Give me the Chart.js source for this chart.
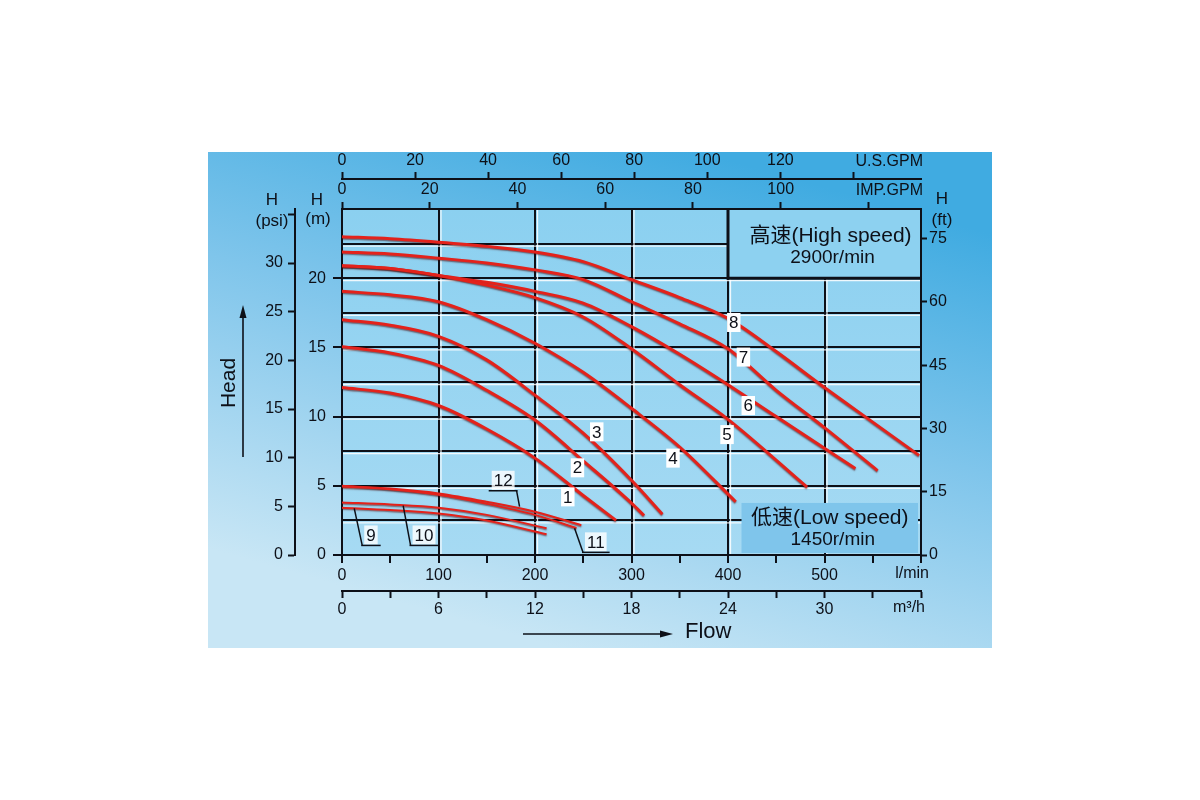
<!DOCTYPE html>
<html>
<head>
<meta charset="utf-8">
<script src="https://cdn.jsdelivr.net/npm/chart.js@4.4.1/dist/chart.umd.min.js"></script>
<style>
  html, body { margin: 0; padding: 0; background: #fff; }
  canvas { display: block; }
</style>
</head>
<body>
<canvas id="pumpChart" width="1200" height="800"></canvas>
<script>
const FONT = '"Liberation Sans", Arial, "Noto Sans CJK SC", sans-serif';
const INK = "#0d1018";
const RED = "#e3221b";

// flow in l/min, head in m  (curves 1-8 high speed, 9-12 low speed)
const q1 = [0, 50, 100, 150, 200, 250, 284];
const h1 = [12.1, 11.7, 10.8, 9.1, 7.0, 4.3, 2.5];
const q2 = [0, 50, 100, 150, 200, 250, 300, 313];
const h2 = [15.05, 14.6, 13.7, 11.9, 9.75, 6.8, 3.75, 2.85];
const q3 = [0, 50, 100, 150, 200, 250, 300, 332];
const h3 = [17.0, 16.6, 15.8, 14.1, 11.55, 8.8, 5.4, 2.95];
const q4 = [0, 50, 100, 150, 200, 250, 300, 350, 408];
const h4 = [19.05, 18.8, 18.3, 17.0, 15.3, 13.2, 10.6, 7.8, 3.85];
const q5 = [0, 50, 100, 150, 200, 250, 300, 350, 400, 482];
const h5 = [20.9, 20.7, 20.2, 19.5, 18.6, 17.2, 14.9, 12.3, 9.8, 4.9];
const q6 = [0, 50, 100, 150, 200, 250, 300, 350, 400, 450, 532];
const h6 = [20.9, 20.7, 20.2, 19.7, 19.05, 18.2, 16.5, 14.5, 12.3, 10.0, 6.25];
const q7 = [0, 50, 100, 150, 200, 250, 300, 350, 400, 450, 500, 555];
const h7 = [21.9, 21.75, 21.45, 21.1, 20.6, 19.9, 18.3, 16.7, 14.9, 11.9, 9.2, 6.1];
const q8 = [0, 50, 100, 150, 200, 250, 300, 350, 400, 450, 500, 550, 598];
const h8 = [23.0, 22.85, 22.6, 22.3, 21.9, 21.2, 19.9, 18.6, 17.1, 14.7, 12.1, 9.6, 7.2];
const q9 = [0, 50, 100, 150, 212];
const h9 = [3.42, 3.25, 3.0, 2.5, 1.5];
const q10 = [0, 50, 100, 150, 212];
const h10 = [3.8, 3.65, 3.42, 2.9, 1.93];
const q11 = [0, 50, 100, 150, 200, 243];
const h11 = [4.95, 4.75, 4.35, 3.7, 2.9, 1.95];
const q12 = [0, 50, 100, 150, 200, 248];
const h12 = [5.0, 4.8, 4.45, 3.85, 3.13, 2.15];

// curve number tags (l/min, m) and leader targets for the low speed ones
const labelText = ["1", "2", "3", "4", "5", "6", "7", "8", "9", "10", "11", "12"];
const labelQ = [234, 244, 264, 343, 399, 421, 416, 406, 30, 85, 263, 167];
const labelH = [4.2, 6.3, 8.9, 7.0, 8.7, 10.8, 14.3, 16.8, 1.45, 1.45, 0.95, 5.4];
const leaderQ = [null, null, null, null, null, null, null, null, 12.7, 63.4, 241, 184];
const leaderH = [null, null, null, null, null, null, null, null, 3.37, 3.56, 1.93, 3.5];

const flowMax = 600;
const headMax = 25;
const LPM_PER_USGPM = 3.78541;
const LPM_PER_IMPGPM = 4.54609;
const LPM_PER_M3H = 1000 / 60;
const PSI_PER_M = 1.42233;
const FT_PER_M = 3.28084;

const curveFlows = [q1, q2, q3, q4, q5, q6, q7, q8, q9, q10, q11, q12];
const curveHeads = [h1, h2, h3, h4, h5, h6, h7, h8, h9, h10, h11, h12];

const datasets = curveFlows.map((q, i) => ({
  label: String(i + 1),
  data: q.map((v, j) => ({ x: v, y: curveHeads[i][j] })),
  borderColor: RED,
  borderWidth: i < 8 ? 3 : 2,
  pointRadius: 0,
  cubicInterpolationMode: "monotone",
  fill: false,
}));

const fixSize = (size) => (scale) => {
  if (scale.isHorizontal()) scale.height = size;
  else scale.width = size;
  scale.paddingLeft = scale.paddingRight = scale.paddingTop = scale.paddingBottom = 0;
};

const tickFont = { family: FONT, size: 16 };

function line(ctx, x1, y1, x2, y2) {
  ctx.beginPath();
  ctx.moveTo(x1, y1);
  ctx.lineTo(x2, y2);
  ctx.stroke();
}

function arrowHead(ctx, tx, ty, dx, dy) {
  // dx,dy unit direction of the arrow
  const len = 13, half = 3.5;
  ctx.beginPath();
  ctx.moveTo(tx, ty);
  ctx.lineTo(tx - dx * len - dy * half, ty - dy * len + dx * half);
  ctx.lineTo(tx - dx * len + dy * half, ty - dy * len - dx * half);
  ctx.closePath();
  ctx.fill();
}

const decor = {
  id: "decor",
  beforeDraw(chart) {
    const { ctx, chartArea: a } = chart;
    ctx.save();
    ctx.fillStyle = "#ffffff";
    ctx.fillRect(0, 0, chart.width, chart.height);
    const g = ctx.createLinearGradient(700, 152, 560, 648);
    g.addColorStop(0, "#40abe1");
    g.addColorStop(0.45, "#7fc5eb");
    g.addColorStop(1, "#c8e6f5");
    ctx.fillStyle = g;
    ctx.fillRect(208, 152, 784, 496);
    const p = ctx.createLinearGradient(0, a.top, 0, a.bottom);
    p.addColorStop(0, "#8bd0f0");
    p.addColorStop(1, "#a6daf3");
    ctx.fillStyle = p;
    ctx.fillRect(a.left, a.top, a.right - a.left, a.bottom - a.top);
    ctx.restore();
  },
  beforeDatasetsDraw(chart) {
    const { ctx, chartArea: a, scales: { x, y } } = chart;
    ctx.save();
    // light edge under the grid lines
    ctx.strokeStyle = "rgba(255,255,255,0.85)";
    ctx.lineWidth = 1.3;
    for (let h = 2.5; h < headMax; h += 2.5) {
      const py = y.getPixelForValue(h) + 2.5;
      line(ctx, a.left + 1, py, a.right - 1, py);
    }
    for (let q = 100; q < flowMax; q += 100) {
      const px = x.getPixelForValue(q) + 2.5;
      line(ctx, px, a.top + 1, px, a.bottom - 1);
    }

    // high speed box
    const bx = x.getPixelForValue(400), by = y.getPixelForValue(20);
    ctx.fillStyle = "#8dd1f0";
    ctx.fillRect(bx, a.top + 1, a.right - 1 - bx, by - a.top - 1);
    ctx.strokeStyle = INK;
    ctx.lineWidth = 3;
    ctx.beginPath();
    ctx.moveTo(bx, a.top);
    ctx.lineTo(bx, by);
    ctx.lineTo(a.right, by);
    ctx.stroke();
    const cx = (bx + a.right) / 2 + 6;
    ctx.fillStyle = INK;
    ctx.textAlign = "center";
    ctx.textBaseline = "middle";
    ctx.font = `21px ${FONT}`;
    ctx.fillText("高速(High speed)", cx, by - 42);
    ctx.font = `19px ${FONT}`;
    ctx.fillText("2900r/min", cx + 2, by - 20);

    // low speed box
    const lx = x.getPixelForValue(414), ly = y.getPixelForValue(3.76);
    ctx.fillStyle = "#7fc5eb";
    ctx.fillRect(lx, ly, a.right - 3 - lx, a.bottom - 2 - ly);
    const lcx = (lx + a.right - 3) / 2;
    ctx.fillStyle = INK;
    ctx.font = `21px ${FONT}`;
    ctx.fillText("低速(Low speed)", lcx, ly + 15);
    ctx.font = `19px ${FONT}`;
    ctx.fillText("1450r/min", lcx + 3, ly + 37);
    ctx.restore();
  },
  beforeDatasetDraw(chart) {
    const ctx = chart.ctx;
    ctx.save();
    ctx.shadowColor = "rgba(70,0,0,0.55)";
    ctx.shadowOffsetY = 1.2;
    ctx.shadowBlur = 1.5;
  },
  afterDatasetDraw(chart) {
    chart.ctx.restore();
  },
  afterDatasetsDraw(chart) {
    const { ctx, scales: { x, y } } = chart;
    ctx.save();
    ctx.font = `17px ${FONT}`;
    ctx.textAlign = "center";
    ctx.textBaseline = "middle";
    labelText.forEach((t, i) => {
      const px = x.getPixelForValue(labelQ[i]);
      const py = y.getPixelForValue(labelH[i]);
      const w = ctx.measureText(t).width + 4, h = 19;
      ctx.fillStyle = i < 8 ? "#ffffff" : "rgba(255,255,255,0.8)";
      ctx.fillRect(px - w / 2, py - h / 2, w, h);
      ctx.fillStyle = INK;
      ctx.fillText(t, px, py + 1);
      if (leaderQ[i] !== null) {
        const base = py + h / 2 + 1;
        ctx.strokeStyle = INK;
        ctx.lineWidth = 1.5;
        line(ctx, px - w / 2 - 3, base, px + w / 2 + 3, base);
        const ex = leaderQ[i] > labelQ[i] ? px + w / 2 + 2 : px - w / 2 - 2;
        line(ctx, ex, base, x.getPixelForValue(leaderQ[i]), y.getPixelForValue(leaderH[i]));
      }
    });
    ctx.restore();
  },
  afterDraw(chart) {
    const { ctx, chartArea: a, scales } = chart;
    ctx.save();
    ctx.fillStyle = INK;
    ctx.strokeStyle = INK;

    // unit names at the end of each flow scale
    ctx.font = `16px ${FONT}`;
    ctx.textAlign = "right";
    ctx.textBaseline = "bottom";
    ctx.fillText("U.S.GPM", a.right + 2, scales.xus.bottom - 9);
    ctx.fillText("IMP.GPM", a.right + 2, scales.ximp.bottom - 10);
    ctx.textBaseline = "top";
    ctx.fillText("l/min", a.right + 8, scales.x.top + 11);
    ctx.fillText("m³/h", a.right + 4, scales.xm3.top + 9);

    // head axis titles
    ctx.font = `17px ${FONT}`;
    ctx.textAlign = "center";
    ctx.textBaseline = "middle";
    ctx.fillText("H", 272, 200);
    ctx.fillText("(psi)", 272, 221);
    ctx.fillText("H", 317, 200);
    ctx.fillText("(m)", 318, 219);
    ctx.fillText("H", 942, 199);
    ctx.fillText("(ft)", 942, 220);

    // Head arrow
    ctx.lineWidth = 1.6;
    line(ctx, 243, 457, 243, 316);
    arrowHead(ctx, 243, 305, 0, -1);
    ctx.save();
    ctx.translate(229, 383);
    ctx.rotate(-Math.PI / 2);
    ctx.font = `21px ${FONT}`;
    ctx.fillText("Head", 0, 0);
    ctx.restore();

    // Flow arrow
    line(ctx, 523, 634, 662, 634);
    arrowHead(ctx, 673, 634, 1, 0);
    ctx.font = `22px ${FONT}`;
    ctx.textAlign = "left";
    ctx.fillText("Flow", 685, 632);
    ctx.restore();
  },
};

new Chart(document.getElementById("pumpChart"), {
  type: "line",
  data: { datasets },
  options: {
    responsive: false,
    devicePixelRatio: 1,
    animation: false,
    layout: { padding: { left: 235, right: 229, top: 149, bottom: 173 } },
    plugins: { legend: { display: false }, tooltip: { enabled: false } },
    scales: {
      x: {
        type: "linear",
        position: "bottom",
        weight: 0,
        min: 0,
        max: flowMax,
        afterFit: fixSize(36),
        ticks: {
          stepSize: 50,
          autoSkip: false,
          maxRotation: 0,
          padding: 3,
          color: INK,
          font: tickFont,
          callback: (v) => (v % 100 === 0 && v < flowMax ? v : ""),
        },
        grid: {
          color: (c) => (c.tick && c.tick.value % 100 === 0 ? INK : "rgba(0,0,0,0)"),
          lineWidth: 2,
          tickLength: 8,
          tickColor: INK,
          tickWidth: 2,
        },
        border: { color: INK, width: 2 },
      },
      xm3: {
        type: "linear",
        position: "bottom",
        weight: 1,
        min: 0,
        max: flowMax / LPM_PER_M3H,
        afterFit: fixSize(36),
        ticks: {
          stepSize: 3,
          autoSkip: false,
          maxRotation: 0,
          padding: 2,
          color: INK,
          font: tickFont,
          callback: (v) => (v % 6 === 0 && v < 36 ? v : ""),
        },
        grid: { drawOnChartArea: false, tickLength: 7, tickColor: INK, tickWidth: 2 },
        border: { color: INK, width: 2 },
      },
      ximp: {
        type: "linear",
        position: "top",
        weight: 0,
        min: 0,
        max: flowMax / LPM_PER_IMPGPM,
        afterFit: fixSize(30),
        ticks: {
          stepSize: 20,
          includeBounds: false,
          autoSkip: false,
          maxRotation: 0,
          padding: 3,
          color: INK,
          font: tickFont,
          callback: (v) => (v < 120 ? v : ""),
        },
        grid: { drawOnChartArea: false, tickLength: 7, tickColor: INK, tickWidth: 2 },
        border: { color: INK, width: 2 },
      },
      xus: {
        type: "linear",
        position: "top",
        weight: 1,
        min: 0,
        max: flowMax / LPM_PER_USGPM,
        afterFit: fixSize(30),
        ticks: {
          stepSize: 20,
          includeBounds: false,
          autoSkip: false,
          maxRotation: 0,
          padding: 2,
          color: INK,
          font: tickFont,
          callback: (v) => (v < 140 ? v : ""),
        },
        grid: { drawOnChartArea: false, tickLength: 7, tickColor: INK, tickWidth: 2 },
        border: { color: INK, width: 2 },
      },
      y: {
        type: "linear",
        position: "left",
        weight: 0,
        min: 0,
        max: headMax,
        afterFit: fixSize(47),
        ticks: {
          stepSize: 2.5,
          autoSkip: false,
          padding: 7,
          color: INK,
          font: tickFont,
          callback: (v) => (v % 5 === 0 && v < headMax ? v : ""),
        },
        grid: {
          color: INK,
          lineWidth: 2,
          tickLength: 9,
          tickWidth: 2,
          tickColor: (c) => (c.tick && c.tick.value % 5 === 0 && c.tick.value < headMax ? INK : "rgba(0,0,0,0)"),
        },
        border: { color: INK, width: 2 },
      },
      ypsi: {
        type: "linear",
        position: "left",
        weight: 1,
        min: 0,
        max: headMax * PSI_PER_M,
        afterFit: fixSize(60),
        ticks: {
          stepSize: 5,
          includeBounds: false,
          autoSkip: false,
          padding: 5,
          color: INK,
          font: tickFont,
          callback: (v) => (v < 35 ? v : ""),
        },
        grid: { drawOnChartArea: false, tickLength: 7, tickColor: INK, tickWidth: 2 },
        border: { color: INK, width: 2 },
      },
      yft: {
        type: "linear",
        position: "right",
        min: 0,
        max: headMax * FT_PER_M,
        afterFit: fixSize(50),
        ticks: {
          stepSize: 15,
          includeBounds: false,
          autoSkip: false,
          padding: 2,
          color: INK,
          font: tickFont,
        },
        grid: { drawOnChartArea: false, tickLength: 6, tickColor: INK, tickWidth: 2 },
        border: { color: INK, width: 2 },
      },
    },
  },
  plugins: [decor],
});
</script>
</body>
</html>
